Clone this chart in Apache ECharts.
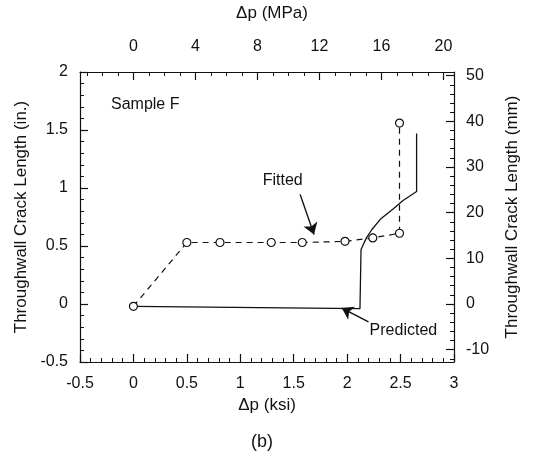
<!DOCTYPE html>
<html>
<head>
<meta charset="utf-8">
<script src="https://cdn.jsdelivr.net/npm/echarts@6/dist/echarts.min.js"></script>
<style>html,body{margin:0;padding:0;background:#fff;}#c{width:534px;height:472px;}</style>
</head>
<body>
<div id="c"></div>
<script>
// ---- data (x in ksi, y in inches) ----
const fittedX = [0, 0.50, 0.81, 1.29, 1.58, 1.98, 2.24, 2.49, 2.49];
const fittedY = [-0.02, 0.53, 0.53, 0.53, 0.53, 0.54, 0.57, 0.61, 1.56];
const predictedX = [0, 2.12, 2.13, 2.14, 2.18, 2.23, 2.31, 2.43, 2.52, 2.65, 2.65];
const predictedY = [-0.02, -0.04, 0.47, 0.49, 0.57, 0.64, 0.73, 0.82, 0.89, 0.97, 1.47];
const topTicksMPa = [0, 4, 8, 12, 16, 20];
const rightTicksMM = [-10, 0, 10, 20, 30, 40, 50];
const MPA_PER_KSI = 6.89476;
const MM_PER_IN = 25.4;

const topMinorMPa = [];
for (let m = -3; m <= 20; m++) if (m % 4 !== 0) topMinorMPa.push(m);
const rightMinorMM = [];
for (let m = -12; m <= 50; m += 2) if (m % 10 !== 0) rightMinorMM.push(m);

const FONT = 'Liberation Sans, Arial, sans-serif';
const black = '#111';
const TICK_FS = 16, TITLE_FS = 17, NOTE_FS = 16;
const chart = echarts.init(document.getElementById('c'), null, {renderer: 'canvas'});

const lineStyle = {color: black, width: 1.2};
const baseAxis = {
  min: -0.5, max: 3, splitLine: {show: false},
  axisLine: {show: true, onZero: false, lineStyle: lineStyle}
};
const baseY = {
  type: 'value', min: -0.5, max: 2, splitLine: {show: false},
  axisLine: {show: true, onZero: false, lineStyle: lineStyle}
};

const option = {
  backgroundColor: '#fff',
  animation: false,
  grid: {left: 80, right: 80, top: 70, bottom: 110},
  xAxis: [
    Object.assign({}, baseAxis, {
      type: 'value', position: 'bottom', interval: 0.5,
      axisTick: {show: true, inside: true, length: 8, lineStyle: lineStyle},
      minorTick: {show: true, splitNumber: 5, length: 4, lineStyle: {color: black, width: 1}},
      axisLabel: {color: black, fontFamily: FONT, fontSize: TICK_FS, margin: 14},
      name: 'Δp (ksi)', nameLocation: 'middle', nameGap: 30,
      nameTextStyle: {color: black, fontFamily: FONT, fontSize: TITLE_FS}
    }),
    Object.assign({}, baseAxis, {
      type: 'value', position: 'top',
      axisTick: {show: true, inside: true, length: 8, lineStyle: lineStyle,
        customValues: topTicksMPa.map(v => v / MPA_PER_KSI)},
      axisLabel: {color: black, fontFamily: FONT, fontSize: TICK_FS, margin: 17,
        customValues: topTicksMPa.map(v => v / MPA_PER_KSI),
        formatter: v => String(Math.round(v * MPA_PER_KSI))},
      name: 'Δp (MPa)', nameLocation: 'middle', nameGap: 50,
      nameTextStyle: {color: black, fontFamily: FONT, fontSize: TITLE_FS, padding: [0, 0, 0, 10]}
    }),
    Object.assign({}, baseAxis, {
      type: 'value', position: 'top', axisLine: {show: false, onZero: false},
      axisTick: {show: true, inside: true, length: 4, lineStyle: {color: black, width: 1},
        customValues: topMinorMPa.map(v => v / MPA_PER_KSI)},
      axisLabel: {show: false}
    })
  ],
  yAxis: [
    Object.assign({}, baseY, {
      position: 'left', interval: 0.5,
      axisTick: {show: true, inside: true, length: 8, lineStyle: lineStyle},
      minorTick: {show: true, splitNumber: 5, length: 4, lineStyle: {color: black, width: 1}},
      axisLabel: {color: black, fontFamily: FONT, fontSize: TICK_FS, margin: 12},
      name: 'Throughwall Crack Length (in.)', nameLocation: 'middle', nameGap: 50, nameRotate: 90,
      nameTextStyle: {color: black, fontFamily: FONT, fontSize: TITLE_FS}
    }),
    Object.assign({}, baseY, {
      position: 'right',
      axisTick: {show: true, inside: true, length: 8, lineStyle: lineStyle,
        customValues: rightTicksMM.map(v => v / MM_PER_IN)},
      axisLabel: {color: black, fontFamily: FONT, fontSize: TICK_FS, margin: 12,
        customValues: rightTicksMM.map(v => v / MM_PER_IN),
        formatter: v => String(Math.round(v * MM_PER_IN))},
      name: 'Throughwall Crack Length (mm)', nameLocation: 'middle', nameGap: 50, nameRotate: 90,
      nameTextStyle: {color: black, fontFamily: FONT, fontSize: TITLE_FS}
    }),
    Object.assign({}, baseY, {
      position: 'right', axisLine: {show: false, onZero: false},
      axisTick: {show: true, inside: true, length: 4, lineStyle: {color: black, width: 1},
        customValues: rightMinorMM.map(v => v / MM_PER_IN)},
      axisLabel: {show: false}
    })
  ],
  series: [
    {
      name: 'Predicted', type: 'line', xAxisIndex: 0, yAxisIndex: 0,
      data: predictedX.map((x, i) => [x, predictedY[i]]),
      showSymbol: false, symbol: 'none',
      lineStyle: {color: black, width: 1.3},
      markLine: {
        silent: true, symbol: ['none', 'arrow'], symbolSize: 11,
        label: {show: false},
        lineStyle: {color: black, width: 1.4, type: 'solid'},
        data: [
          [{coord: [1.56, 0.945]}, {coord: [1.69, 0.60]}],
          [{coord: [2.20, -0.155]}, {coord: [1.95, -0.035]}]
        ]
      }
    },
    {
      name: 'Fitted', type: 'line', xAxisIndex: 0, yAxisIndex: 0,
      data: fittedX.map((x, i) => [x, fittedY[i]]),
      symbol: 'circle', symbolSize: 8,
      itemStyle: {color: '#fff', borderColor: black, borderWidth: 1.2},
      lineStyle: {color: black, width: 1.2, type: [6, 5]}
    }
  ]
};
chart.setOption(option);

function px(x, y) { return chart.convertToPixel({xAxisIndex: 0, yAxisIndex: 0}, [x, y]); }
const sampleP = px(-0.21, 1.72), fitP = px(1.21, 1.06), predP = px(2.21, -0.225);
chart.setOption({
  graphic: [
    {type: 'text', x: sampleP[0], y: sampleP[1], style: {text: 'Sample F', fill: black, font: NOTE_FS + 'px ' + FONT, textVerticalAlign: 'middle'}},
    {type: 'text', x: fitP[0], y: fitP[1], style: {text: 'Fitted', fill: black, font: NOTE_FS + 'px ' + FONT, textVerticalAlign: 'middle'}},
    {type: 'text', x: predP[0], y: predP[1], style: {text: 'Predicted', fill: black, font: NOTE_FS + 'px ' + FONT, textVerticalAlign: 'middle'}},
    {type: 'text', x: 262, y: 442, style: {text: '(b)', fill: black, font: '18px ' + FONT, textAlign: 'center', textVerticalAlign: 'middle'}}
  ]
});
</script>
</body>
</html>
